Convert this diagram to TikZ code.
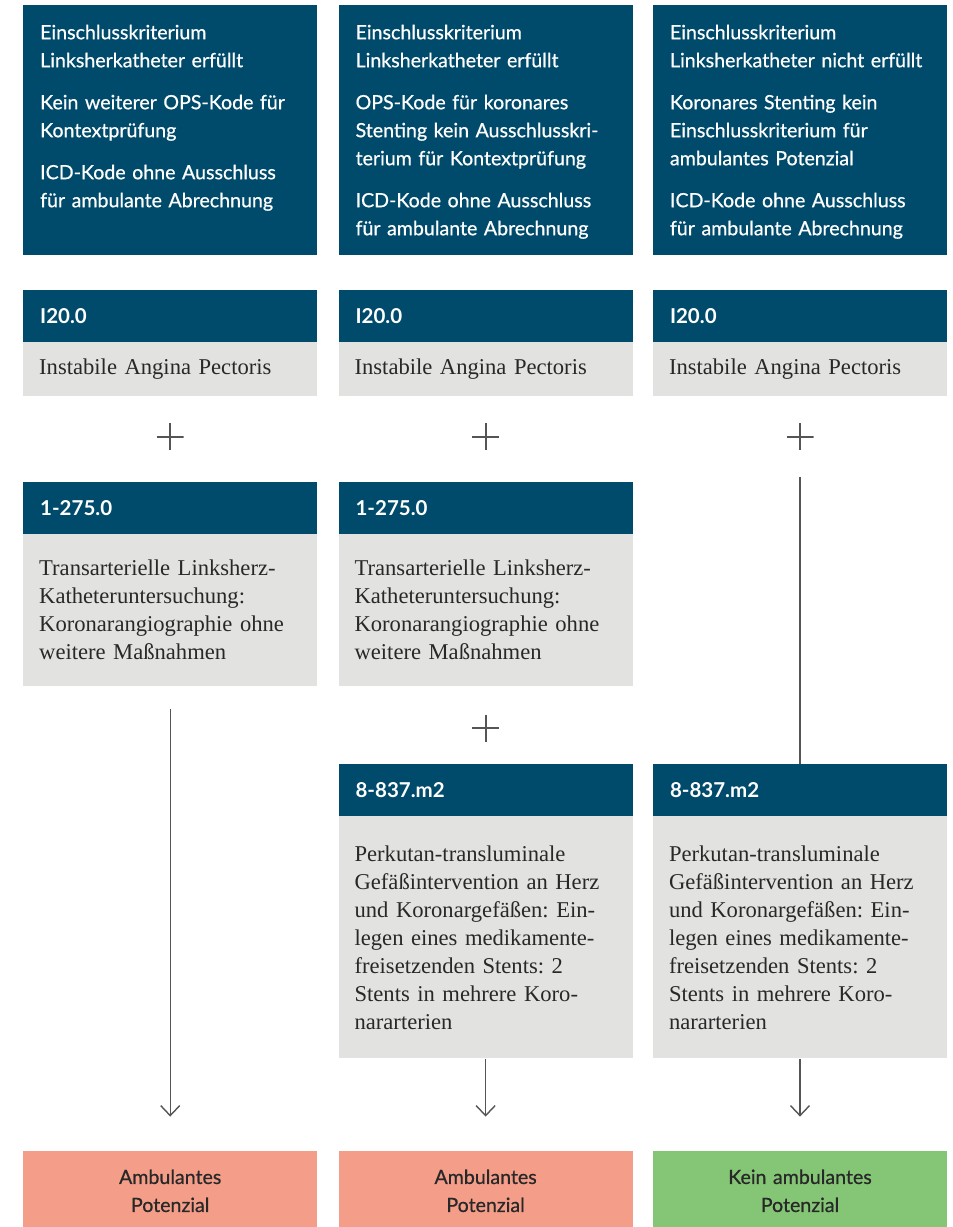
\documentclass[tikz,border=0pt]{standalone}
\usepackage{fontspec}
\setmainfont{Liberation Serif}
\newfontfamily\sansfont[FakeBold=0.6]{Lato}
\newfontfamily\sanscode{Lato}
\usetikzlibrary{positioning,arrows.meta}

\definecolor{opsblue}{RGB}{0,75,107}
\definecolor{codegray}{RGB}{226,227,225}
\definecolor{salmon}{RGB}{244,157,136}
\definecolor{mint}{RGB}{132,198,117}
\definecolor{linegray}{RGB}{85,85,85}
\definecolor{textdark}{RGB}{40,40,40}

\tikzstyle{criterion} = [rectangle, fill=opsblue, text=white, text width=260pt, inner xsep=17pt, inner ysep=0pt, text height=34pt, text depth=216pt, align=left, font=\sansfont\fontsize{19.6}{28}\selectfont]
\tikzstyle{code} = [rectangle, fill=opsblue, text=white, text width=260pt, inner xsep=17pt, minimum height=52pt, align=left, font=\sanscode\bfseries\fontsize{20.5}{22}\selectfont]
\tikzstyle{desc} = [rectangle, fill=codegray, text=textdark, text width=262pt, inner xsep=16pt, align=left, font=\frenchspacing\fontsize{22.6}{28}\selectfont]
\tikzstyle{result} = [rectangle, text=textdark, text width=260pt, inner xsep=17pt, minimum height=80pt, align=center, font=\sansfont\fontsize{19.6}{28}\selectfont]
\tikzstyle{plus} = [minimum size=27pt, inner sep=0pt, path picture={\draw[linegray, line width=2pt] (path picture bounding box.north) -- (path picture bounding box.south) (path picture bounding box.west) -- (path picture bounding box.east);}]
\tikzstyle{arrow} = [-{Straight Barb[length=10pt,width=19pt]}, draw=linegray, line width=1.4pt]
\tikzstyle{line} = [draw=linegray, line width=1.4pt]

\begin{document}
\begin{tikzpicture}[x=1pt, y=1pt]
	\useasboundingbox (0,0) rectangle (953,-1227);

	\node (crit1) [criterion, anchor=north west] at (23,-5) {Einschlusskriterium\\Linksherkatheter erfüllt\\[14pt]Kein weiterer OPS-Kode für\\Kontextprüfung\\[14pt]ICD-Kode ohne Ausschluss\\für ambulante Abrechnung};
	\node (crit2) [criterion, right=21pt of crit1] {Einschlusskriterium\\Linksherkatheter erfüllt\\[14pt]OPS-Kode für koronares\\Stenting kein Ausschlusskri-\\terium für Kontextprüfung\\[14pt]ICD-Kode ohne Ausschluss\\für ambulante Abrechnung};
	\node (crit3) [criterion, right=20pt of crit2] {Einschlusskriterium\\Linksherkatheter nicht erfüllt\\[14pt]Koronares Stenting kein\\Einschlusskriterium für\\ambulantes Potenzial\\[14pt]ICD-Kode ohne Ausschluss\\für ambulante Abrechnung};

	% ICD
	\node (icd1) [code, below=34pt of crit1] {I20.0};
	\node (icd2) [code, below=34pt of crit2] {I20.0};
	\node (icd3) [code, below=34pt of crit3] {I20.0};
	\node (icddesc1) [desc, minimum height=54pt, below=0pt of icd1] {Instabile Angina Pectoris};
	\node (icddesc2) [desc, minimum height=54pt, below=0pt of icd2] {Instabile Angina Pectoris};
	\node (icddesc3) [desc, minimum height=54pt, below=0pt of icd3] {Instabile Angina Pectoris};
	\node (plus1) [plus, below=27pt of icddesc1] {};
	\node (plus2) [plus, below=27pt of icddesc2] {};
	\node (plus3) [plus, below=27pt of icddesc3] {};

	% OPS 1-275.0
	\node (ops1) [code, below=31pt of plus1] {1-275.0};
	\node (ops2) [code, below=31pt of plus2] {1-275.0};
	\node (opsdesc1) [desc, minimum height=152pt, below=0pt of ops1] {Transarterielle Linksherz-\\Katheteruntersuchung:\\Koronarangiographie ohne\\weitere Maßnahmen};
	\node (opsdesc2) [desc, minimum height=152pt, below=0pt of ops2] {Transarterielle Linksherz-\\Katheteruntersuchung:\\Koronarangiographie ohne\\weitere Maßnahmen};
	\node (plus4) [plus, below=28pt of opsdesc2] {};

	% OPS 8-837.m2
	\node (stent2) [code, below=22pt of plus4] {8-837.m2};
	\node (stent3) [code, right=20pt of stent2] {8-837.m2};
	\node (stentdesc2) [desc, minimum height=242pt, below=0pt of stent2] {Perkutan-transluminale\\Gefäßintervention an Herz\\und Koronargefäßen: Ein-\\legen eines medikamente-\\freisetzenden Stents: 2\\Stents in mehrere Koro-\\nararterien};
	\node (stentdesc3) [desc, minimum height=242pt, below=0pt of stent3] {Perkutan-transluminale\\Gefäßintervention an Herz\\und Koronargefäßen: Ein-\\legen eines medikamente-\\freisetzenden Stents: 2\\Stents in mehrere Koro-\\nararterien};

	\node (result2) [result, fill=salmon, below=92pt of stentdesc2] {Ambulantes\\Potenzial};
	\node (result1) [result, fill=salmon, left=21pt of result2] {Ambulantes\\Potenzial};
	\node (result3) [result, fill=mint, right=20pt of result2] {Kein ambulantes\\Potenzial};

	\draw [arrow, shorten <=23pt, shorten >=34pt] (opsdesc1) -- (result1);
	\draw [arrow, shorten >=34pt] (stentdesc2) -- (result2);
	\draw [arrow, shorten >=34pt] (stentdesc3) -- (result3);
	\draw [line, shorten <=26pt] (plus3) -- (stent3);
\end{tikzpicture}
\end{document}
